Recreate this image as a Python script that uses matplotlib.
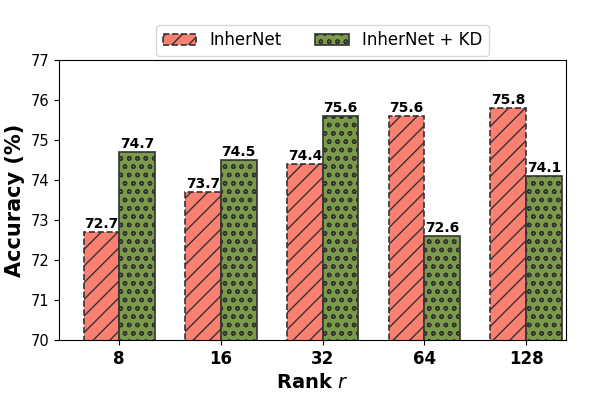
import numpy as np
import matplotlib.pyplot as plt

ranks = ['8', '16', '32', '64', '128']
inhernet = [72.7, 73.7, 74.4, 75.6, 75.8]
inhernet_kd = [74.7, 74.5, 75.6, 72.6, 74.1]

plt.rcParams['hatch.color'] = '#333333'
plt.rcParams['hatch.linewidth'] = 1.0

fig = plt.figure(figsize=(5.98, 3.99), dpi=100)
ax = fig.add_axes([0.099, 0.148, 0.847, 0.702])

x = np.arange(len(ranks))
w = 0.35
b1 = ax.bar(x - w/2, inhernet, w, color='#FA8072', edgecolor='#333333',
            linestyle='--', linewidth=1.2, hatch='//', label='InherNet')
b2 = ax.bar(x + w/2, inhernet_kd, w, color='#7C9B4A', edgecolor='#333333',
            linewidth=1.2, hatch='oo', label='InherNet + KD')

for bars in (b1, b2):
    for r in bars:
        ax.text(r.get_x() + r.get_width()/2, r.get_height() + 0.02,
                '%.1f' % r.get_height(), ha='center', va='bottom',
                fontsize=10, fontweight='bold')

ax.set_ylim(70, 77)
ax.set_xlim(-0.59, 4.39)
ax.set_xticks(x)
ax.set_xticklabels(ranks, fontsize=12, fontweight='bold')
ax.tick_params(axis='y', labelsize=10.5)
ax.set_xlabel('Rank $r$', fontsize=14, fontweight='bold')
ax.set_ylabel('Accuracy (%)', fontsize=15, fontweight='bold')
ax.legend(loc='upper center', bbox_to_anchor=(0.52, 1.155), ncol=2, fontsize=12,
          columnspacing=2.0)

fig.savefig('out.png', dpi=100)
